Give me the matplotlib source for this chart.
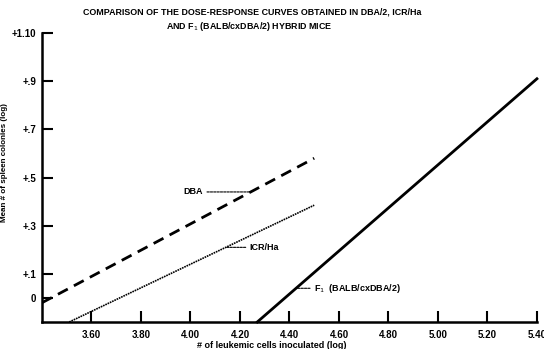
import matplotlib
matplotlib.use('Agg')
import matplotlib.pyplot as plt
from matplotlib import font_manager
import numpy as np

# Fitted dose-response lines (log cells vs log colonies)
dba_x = [3.40, 4.50]
dba_y = [-0.02, 0.58]
icr_x = [3.51, 4.50]
icr_y = [-0.10, 0.385]
f1_x = [4.27, 5.40]
f1_y = [-0.10, 0.91]

x_ticks = [3.60, 3.80, 4.00, 4.20, 4.40, 4.60, 4.80, 5.00, 5.20, 5.40]
x_labels = ['3.60', '3.80', '4.00', '4.20', '4.40', '4.60', '4.80', '5.00', '5.20', '5.40']
y_ticks = [0, 0.1, 0.3, 0.5, 0.7, 0.9, 1.10]
y_labels = ['0', '+.1', '+.3', '+.5', '+.7', '+.9', '+1.10']

# prefer a narrow typeface if the box has one (the original is a condensed bold face)
names = {f.name for f in font_manager.fontManager.ttflist}
if 'Liberation Sans Narrow' in names:
    plt.rcParams['font.family'] = ['Liberation Sans Narrow', 'DejaVu Sans']
    k = 1.2
else:
    plt.rcParams['font.family'] = ['Liberation Sans', 'DejaVu Sans']
    k = 1.0

fig = plt.figure(figsize=(5.44, 3.49), dpi=100)
ax = fig.add_axes([0.0772, 0.0774, 0.9098, 0.828])

ax.plot(dba_x, dba_y, color='black', lw=2, ls=(0, (4, 2.5)), solid_capstyle='butt')
ax.plot(icr_x, icr_y, color='black', lw=1.2, ls=(0, (1, 0.5)))
ax.plot(f1_x, f1_y, color='black', lw=2, clip_on=False)

ax.set_xlim(3.40, 5.40)
ax.set_ylim(-0.10, 1.10)
ax.spines['top'].set_visible(False)
ax.spines['right'].set_visible(False)
for s in ('left', 'bottom'):
    ax.spines[s].set_linewidth(1.8)

ax.set_xticks(x_ticks)
ax.set_xticklabels(x_labels, fontsize=7.0 * k, fontweight='bold')
ax.set_yticks(y_ticks)
ax.set_yticklabels(y_labels, fontsize=7.0 * k, fontweight='bold')
ax.tick_params(direction='in', length=8, width=1.5, pad=4)
ax.tick_params(axis='x', pad=6)

# leader labels
def leader(text, tx, ty, xs, ys, ha):
    px = np.interp(ty, ys, xs)
    ax.annotate(text, xy=(px, ty), xytext=(tx, ty), ha=ha, va='center',
                fontsize=6.5 * k, fontweight='bold',
                arrowprops=dict(arrowstyle='-', ls=(0, (2, 1)), lw=0.8,
                                shrinkA=1, shrinkB=0, color='black'))

leader('DBA', 4.05, 0.44, dba_x, dba_y, 'right')
leader('ICR/Ha', 4.24, 0.21, icr_x, icr_y, 'left')
leader('F$_1$  (BALB/cxDBA/2)', 4.50, 0.04, f1_x, f1_y, 'left')

ax.set_xlabel('# of leukemic cells inoculated (log)', fontsize=6.5 * k, fontweight='bold')
ax.xaxis.set_label_coords(0.465, -0.066)
ax.set_ylabel('Mean # of spleen colonies (log)', fontsize=5.8 * k, fontweight='bold')
ax.yaxis.set_label_coords(-0.068, 0.55)

fig.text(0.463, 0.966, 'COMPARISON OF THE DOSE-RESPONSE CURVES OBTAINED IN DBA/2, ICR/Ha',
         ha='center', va='center', fontsize=6.4 * k, fontweight='bold')
fig.text(0.458, 0.923, 'AND F$_1$ (BALB/cxDBA/2) HYBRID MICE',
         ha='center', va='center', fontsize=6.4 * k, fontweight='bold')

fig.savefig('out.png', dpi=100)
